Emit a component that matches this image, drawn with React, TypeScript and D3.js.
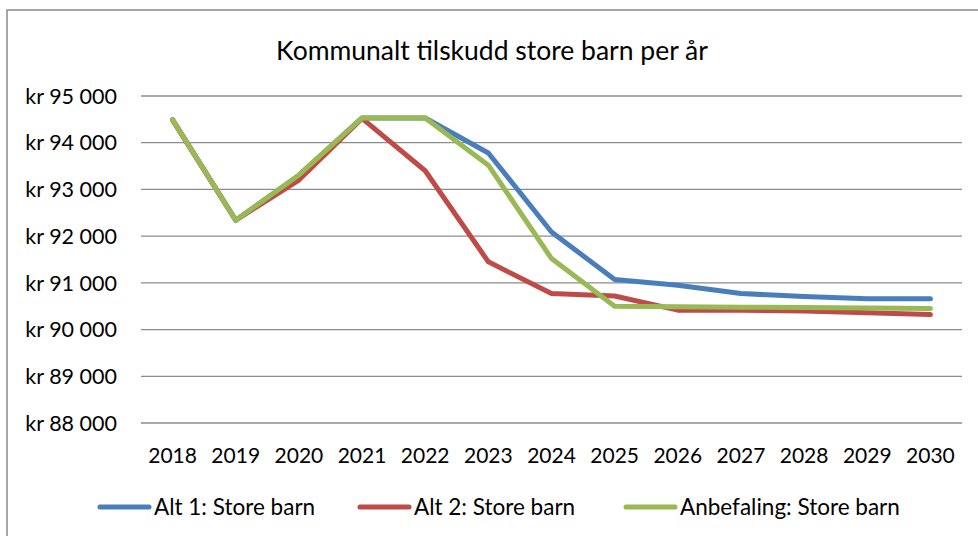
import React, { useEffect, useRef } from "react"
import * as d3 from "d3"

// data
const years = ["2018", "2019", "2020", "2021", "2022", "2023", "2024", "2025", "2026", "2027", "2028", "2029", "2030"]
const alt1 = [94490, 92340, 93300, 94530, 94530, 93780, 92090, 91070, 90950, 90770, 90710, 90660, 90660]
const alt2 = [94490, 92340, 93200, 94520, 93400, 91450, 90770, 90720, 90415, 90415, 90400, 90360, 90320]
const anbefaling = [94490, 92340, 93310, 94530, 94530, 93520, 91520, 90500, 90490, 90480, 90470, 90460, 90450]
const yTicks = [88000, 89000, 90000, 91000, 92000, 93000, 94000, 95000]
const seriesNames = ["Alt 1: Store barn", "Alt 2: Store barn", "Anbefaling: Store barn"]
const colors = ["#4a7ebb", "#be4b48", "#98b954"]

const title = "Kommunalt tilskudd store barn per år"
const font = "Lato, 'Open Sans', sans-serif"

const App = () => {
  const ref = useRef(null)

  useEffect(() => {
    const width = 978
    const height = 536
    const left = 141
    const right = 962
    const top = 96
    const bottom = 423

    const root = d3.select(ref.current)
    root.selectAll("*").remove()
    const svg = root
      .append("svg")
      .attr("width", width)
      .attr("height", height)
      .style("position", "absolute")
      .style("left", 0)
      .style("top", 0)
      .style("font-family", font)

    svg.append("rect").attr("width", width).attr("height", height).attr("fill", "#fff")
    // chart frame (runs off the right and bottom edge)
    svg
      .append("rect")
      .attr("x", 7)
      .attr("y", 10)
      .attr("width", width + 20)
      .attr("height", height + 20)
      .attr("fill", "none")
      .attr("stroke", "#8a8a8a")
      .attr("stroke-width", 1.5)

    svg
      .append("text")
      .attr("x", 492)
      .attr("y", 60)
      .attr("text-anchor", "middle")
      .attr("font-size", 26.5)
      .attr("fill", "#000")
      .text(title)

    const x = d3.scaleBand().domain(years).range([left, right])
    const y = d3.scaleLinear().domain([88000, 95000]).range([bottom, top])
    const fmt = (v) => "kr " + d3.format(",")(v).replace(",", " ")

    // gridlines
    svg
      .append("g")
      .selectAll("line")
      .data(yTicks)
      .enter()
      .append("line")
      .attr("x1", left)
      .attr("x2", right)
      .attr("y1", d => y(d))
      .attr("y2", d => y(d))
      .attr("stroke", "#8c8c8c")
      .attr("stroke-width", 1.3)

    svg
      .append("g")
      .selectAll("text")
      .data(yTicks)
      .enter()
      .append("text")
      .attr("x", 117)
      .attr("y", d => y(d))
      .attr("dy", "0.36em")
      .attr("text-anchor", "end")
      .attr("font-size", 21.5)
      .text(d => fmt(d))

    svg
      .append("g")
      .selectAll("text")
      .data(years)
      .enter()
      .append("text")
      .attr("x", d => x(d) + x.bandwidth() / 2)
      .attr("y", 463)
      .attr("text-anchor", "middle")
      .attr("font-size", 21)
      .text(d => d)

    const line = d3
      .line()
      .x((d, i) => x(years[i]) + x.bandwidth() / 2)
      .y(d => y(d))

    const all = [alt1, alt2, anbefaling]
    svg
      .append("g")
      .selectAll("path")
      .data(all)
      .enter()
      .append("path")
      .attr("d", d => line(d))
      .attr("fill", "none")
      .attr("stroke", (d, i) => colors[i])
      .attr("stroke-width", 5)
      .attr("stroke-linecap", "round")
      .attr("stroke-linejoin", "round")

    // legend
    const legendX = [98, 358, 624]
    const legend = svg
      .append("g")
      .selectAll("g")
      .data(seriesNames)
      .enter()
      .append("g")
      .attr("transform", (d, i) => "translate(" + legendX[i] + ",507)")
    legend
      .append("line")
      .attr("x1", 2)
      .attr("x2", 51)
      .attr("stroke", (d, i) => colors[i])
      .attr("stroke-width", 5)
      .attr("stroke-linecap", "round")
    legend
      .append("text")
      .attr("x", 56)
      .attr("dy", "0.36em")
      .attr("font-size", 22.5)
      .text(d => d)
  }, [])

  return <div ref={ref}></div>
}

export default App
